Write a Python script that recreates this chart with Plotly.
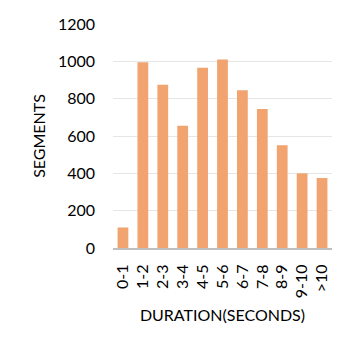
import plotly.graph_objects as go

categories = ["0-1", "1-2", "2-3", "3-4", "4-5", "5-6", "6-7", "7-8", "8-9", "9-10", ">10"]
segments = [110, 995, 875, 655, 965, 1010, 845, 745, 550, 400, 375]
y_ticks = [0, 200, 400, 600, 800, 1000, 1200]

fig = go.Figure(go.Bar(x=categories, y=segments, marker=dict(color="#F1A46F", line=dict(width=0))))

fig.update_layout(
    width=355, height=352,
    margin=dict(l=105, r=31, t=16, b=112, autoexpand=False),
    paper_bgcolor="white", plot_bgcolor="white",
    bargap=0.46,
    font=dict(family="Lato, Calibri, Carlito, sans-serif", size=16, color="#000000"),
    showlegend=False,
    xaxis=dict(
        title=dict(text="DURATION(SECONDS)", font=dict(size=16), standoff=13),
        tickangle=-90, showgrid=False, showline=True, linecolor="#BFBFBF", linewidth=2,
        ticks="", tickfont=dict(size=16), ticklabelstandoff=8,
    ),
    yaxis=dict(
        title=dict(text="SEGMENTS", font=dict(size=16), standoff=8),
        range=[0, 1200], tickvals=y_ticks, showgrid=True, gridcolor="#E6E6E6", gridwidth=1,
        zeroline=False, showline=False, ticks="", tickfont=dict(size=16), ticklabelstandoff=17,
    ),
)

fig.write_html("out.html")
